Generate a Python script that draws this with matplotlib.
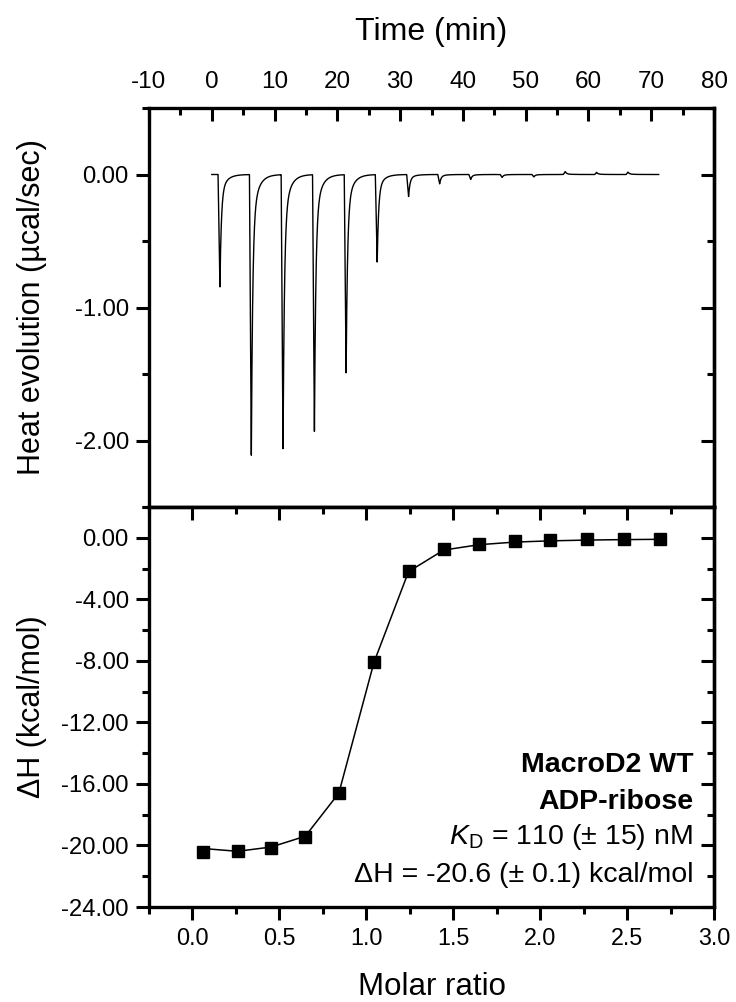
import numpy as np
import matplotlib
matplotlib.use("Agg")
import matplotlib.pyplot as plt
from matplotlib.ticker import MultipleLocator, FormatStrFormatter

plt.rcParams['font.family'] = ['Liberation Sans', 'DejaVu Sans']
plt.rcParams['axes.unicode_minus'] = False
plt.rcParams['mathtext.fontset'] = 'custom'
plt.rcParams['mathtext.rm'] = 'Liberation Sans'
plt.rcParams['mathtext.it'] = 'Liberation Sans:italic'

# raw thermogram: injection times (min) and peak minima (ucal/sec)
inj_time = [1.0, 6.0, 11.05, 16.05, 21.1, 26.05, 31.05, 36.0, 40.95, 45.95, 51.0, 56.0, 61.0, 66.0]
inj_peak = [-0.845, -2.11, -2.06, -1.93, -1.49, -0.657, -0.165, -0.07, -0.037,
            -0.022, -0.018, 0.022, 0.016, 0.018]
run_start, run_end = 0.0, 71.2

# integrated heats
molar_ratio = [0.063, 0.260, 0.453, 0.649, 0.842, 1.044, 1.243, 1.445,
               1.649, 1.855, 2.059, 2.268, 2.480, 2.688]
dH = [-20.43, -20.35, -20.14, -19.46, -16.6, -8.08, -2.18, -0.76,
      -0.39, -0.22, -0.16, -0.11, -0.07, -0.05]
fit_dH = [-20.2, -20.38, -20.1, -19.4, -16.6, -8.1, -2.2, -0.8,
          -0.45, -0.28, -0.2, -0.15, -0.12, -0.1]

annot = ["MacroD2 WT", "ADP-ribose",
         r"$\it{K}_{\rm D}$ = 110 (± 15) nM",
         "ΔH = -20.6 (± 0.1) kcal/mol"]

# build trace from the injection list
t = np.arange(run_start, run_end, 0.01)
trace = np.zeros_like(t)
rise = 0.3
for t0, amp in zip(inj_time, inj_peak):
    dt = t - t0
    s = np.where((dt >= 0) & (dt < rise), dt / rise, 0.0)
    d = dt - rise
    s = np.where(d >= 0, 0.82 * np.exp(-d / 0.22) + 0.18 * np.exp(-d / 0.9), s)
    trace += amp * s

fig = plt.figure(figsize=(7.36, 10.02), dpi=100)
ax1 = fig.add_axes([149 / 736, 1 - 507 / 1002, 565 / 736, 399 / 1002])
ax2 = fig.add_axes([149 / 736, 1 - 907 / 1002, 565 / 736, 400 / 1002])

ax1.plot(t, trace, color='black', lw=1.0)
ax1.set_xlim(-10, 80)
ax1.set_ylim(-2.5, 0.5)

ax2.plot(molar_ratio, fit_dH, color='black', lw=1.1, zorder=2)
ax2.plot(molar_ratio, dH, ls='none', marker='s', ms=9, color='black', zorder=3)
ax2.set_xlim(-0.25, 3.0)
ax2.set_ylim(-24, 2)

for ax in (ax1, ax2):
    for sp in ax.spines.values():
        sp.set_linewidth(2.4)

# top panel ticks
ax1.xaxis.tick_top()
ax1.xaxis.set_label_position('top')
ax1.xaxis.set_major_locator(MultipleLocator(10))
ax1.xaxis.set_minor_locator(MultipleLocator(5))
ax1.yaxis.set_major_locator(MultipleLocator(1.0))
ax1.yaxis.set_minor_locator(MultipleLocator(0.5))
ax1.yaxis.set_major_formatter(FormatStrFormatter('%.2f'))
ax1.tick_params(axis='x', which='both', direction='in', top=True, bottom=False,
                width=2.2, labelsize=17.5, pad=11)
ax1.tick_params(axis='x', which='major', length=9.5)
ax1.tick_params(axis='x', which='minor', length=5)
ax1.tick_params(axis='y', which='both', direction='out', left=True, right=False,
                width=2.2, labelsize=17.2, pad=5)
ax1.tick_params(axis='y', which='major', length=9.5)
ax1.tick_params(axis='y', which='minor', length=5)

# bottom panel ticks
ax2.xaxis.set_major_locator(MultipleLocator(0.5))
ax2.xaxis.set_minor_locator(MultipleLocator(0.25))
ax2.xaxis.set_major_formatter(FormatStrFormatter('%.1f'))
ax2.yaxis.set_major_locator(MultipleLocator(4))
ax2.yaxis.set_minor_locator(MultipleLocator(2))
ax2.yaxis.set_major_formatter(FormatStrFormatter('%.2f'))
ax2.tick_params(axis='both', which='both', direction='out', width=2.2, pad=5)
ax2.tick_params(axis='x', labelsize=16.8)
ax2.tick_params(axis='y', labelsize=17.2)
ax2.tick_params(axis='both', which='major', length=9.5)
ax2.tick_params(axis='both', which='minor', length=5)

# mirrored inward ticks on right (both) and top (bottom panel)
for ax in (ax1, ax2):
    sec = ax.secondary_yaxis('right')
    sec.yaxis.set_major_locator(ax.yaxis.get_major_locator())
    sec.yaxis.set_minor_locator(ax.yaxis.get_minor_locator())
    sec.tick_params(which='both', direction='in', width=2.2, labelright=False)
    sec.tick_params(which='major', length=9.5)
    sec.tick_params(which='minor', length=5)
    sec.spines['right'].set_linewidth(2.4)
secx = ax2.secondary_xaxis('top')
secx.xaxis.set_major_locator(MultipleLocator(0.5))
secx.xaxis.set_minor_locator(MultipleLocator(0.25))
secx.tick_params(which='both', direction='in', width=2.2, labeltop=False)
secx.tick_params(which='major', length=9.5)
secx.tick_params(which='minor', length=5)
secx.spines['top'].set_linewidth(2.4)

ax1.set_xlabel('Time (min)', fontsize=23)
ax1.xaxis.set_label_coords(0.5, 1.17)
ax1.set_ylabel('Heat evolution (µcal/sec)', fontsize=22)
ax1.yaxis.set_label_coords(-0.18, 0.5)
ax2.set_xlabel('Molar ratio', fontsize=22.5)
ax2.xaxis.set_label_coords(0.5, -0.163)
ax2.set_ylabel('ΔH (kcal/mol)', fontsize=22)
ax2.yaxis.set_label_coords(-0.18, 0.5)

ys = [0.355, 0.2625, 0.175, 0.08]
for i, (txt, y) in enumerate(zip(annot, ys)):
    ax2.text(0.963, y, txt, transform=ax2.transAxes, ha='right', va='center',
             fontsize=20.5, fontweight='bold' if i < 2 else 'normal')

fig.savefig('out.png', dpi=100)
